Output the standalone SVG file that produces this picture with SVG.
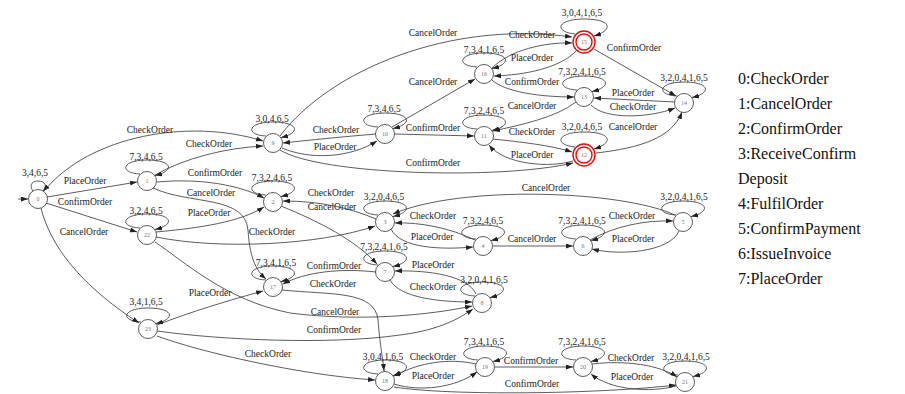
<svg xmlns="http://www.w3.org/2000/svg" xmlns:xlink="http://www.w3.org/1999/xlink" width="905" height="394" viewBox="0 0 905 394">
<style>
.e{fill:none;stroke:#333;stroke-width:0.8;marker-end:url(#ah)}
.lp{fill:none;stroke:#333;stroke-width:0.8;marker-end:url(#ah)}
.el{font-family:"Liberation Serif","Times New Roman",serif;font-size:9.5px;fill:#222;text-anchor:middle}
.node circle{fill:#fff;stroke:#333;stroke-width:0.8}
.node text{font-family:"Liberation Serif",serif;font-size:6px;fill:#777;text-anchor:middle}
.acc circle{fill:#fff;stroke:#e01010;stroke-width:1.4}
.lg{font-family:"Liberation Serif","Times New Roman",serif;font-size:16px;fill:#111}
</style>
<defs>
<marker id="ah" viewBox="0 0 7 5" refX="7" refY="2.5" markerWidth="7" markerHeight="5" orient="auto" markerUnits="userSpaceOnUse"><path d="M0,0 L7,2.5 L0,5 z" fill="#222"/></marker>
<path id="loop" class="lp" d="M-7,-7 C-28,-8 -26,-21 0,-21 C26,-21 28,-10 8,-5.5"/>
<path id="loopR" class="lp" d="M-9,-8 C-30,-10 -28,-23 0,-23 C28,-23 30,-12 10,-6"/>
<path id="loopS" class="lp" d="M-5,-8 C-8,-12 -8,-18 0,-18 C8,-18 9,-12 5,-8"/>
</defs>

<g id="connectors">
<path class="e" d="M18,199 L28,199"/>
<use xlink:href="#loopS" transform="translate(38,199)"/><text class="el" x="35" y="176">3,4,6,5</text>
<use xlink:href="#loop" transform="translate(147,181)"/><text class="el" x="146" y="160">7,3,4,6,5</text>
<use xlink:href="#loop" transform="translate(147,235)"/><text class="el" x="146" y="214">3,2,4,6,5</text>
<use xlink:href="#loop" transform="translate(148,329)"/><text class="el" x="146" y="305">3,4,1,6,5</text>
<use xlink:href="#loop" transform="translate(273,143)"/><text class="el" x="272" y="122">3,0,4,6,5</text>
<use xlink:href="#loop" transform="translate(273,202)"/><text class="el" x="272" y="181">7,3,2,4,6,5</text>
<use xlink:href="#loop" transform="translate(273,287)"/><text class="el" x="276" y="266">7,3,4,1,6,5</text>
<use xlink:href="#loop" transform="translate(385,134)"/><text class="el" x="384" y="112">7,3,4,6,5</text>
<use xlink:href="#loop" transform="translate(385,222)"/><text class="el" x="384" y="200">3,2,0,4,6,5</text>
<use xlink:href="#loop" transform="translate(385,272)"/><text class="el" x="384" y="250">7,3,2,4,1,6,5</text>
<use xlink:href="#loop" transform="translate(385,381)"/><text class="el" x="383" y="360">3,0,4,1,6,5</text>
<use xlink:href="#loop" transform="translate(484,74)"/><text class="el" x="484" y="53">7,3,4,1,6,5</text>
<use xlink:href="#loop" transform="translate(484,136)"/><text class="el" x="484" y="114">7,3,2,4,6,5</text>
<use xlink:href="#loop" transform="translate(483,246)"/><text class="el" x="483" y="224">7,3,2,4,6,5</text>
<use xlink:href="#loop" transform="translate(482,303)"/><text class="el" x="484" y="283">3,2,0,4,1,6,5</text>
<use xlink:href="#loop" transform="translate(485,367)"/><text class="el" x="484" y="345">7,3,4,1,6,5</text>
<use xlink:href="#loopR" transform="translate(584,42)"/><text class="el" x="582" y="16">3,0,4,1,6,5</text>
<use xlink:href="#loop" transform="translate(584,97)"/><text class="el" x="582" y="75">7,3,2,4,1,6,5</text>
<use xlink:href="#loopR" transform="translate(584,155)"/><text class="el" x="582" y="130">3,2,0,4,6,5</text>
<use xlink:href="#loop" transform="translate(583,246)"/><text class="el" x="582" y="224">7,3,2,4,1,6,5</text>
<use xlink:href="#loop" transform="translate(583,367)"/><text class="el" x="582" y="345">7,3,2,4,1,6,5</text>
<use xlink:href="#loop" transform="translate(684,103)"/><text class="el" x="684" y="81">3,2,0,4,1,6,5</text>
<use xlink:href="#loop" transform="translate(683,222)"/><text class="el" x="684" y="200">3,2,0,4,1,6,5</text>
<use xlink:href="#loop" transform="translate(685,382)"/><text class="el" x="686" y="360">3,2,0,4,1,6,5</text>

<path class="e" d="M44,191 C90,135 190,118 263,141"/><text class="el" x="150" y="133">CheckOrder</text>
<path class="e" d="M47,197 L137,182"/><text class="el" x="85" y="184">PlaceOrder</text>
<path class="e" d="M46,203 L137,232"/><text class="el" x="85" y="205">ConfirmOrder</text>
<path class="e" d="M41,208 C50,245 80,285 139,323"/><text class="el" x="84" y="235">CancelOrder</text>
<path class="e" d="M155,175 C185,158 225,148 263,146"/><text class="el" x="209" y="147">CheckOrder</text>
<path class="e" d="M157,182 C200,178 240,185 264,198"/><text class="el" x="215" y="176">ConfirmOrder</text>
<path class="e" d="M153,188 C190,205 245,195 248,230 C250,262 258,272 266,279"/><text class="el" x="211" y="196">CancelOrder</text>
<path class="e" d="M156,232 C200,228 240,222 264,207"/><text class="el" x="209" y="216">PlaceOrder</text>
<path class="e" d="M156,237 C220,250 320,245 375,226"/><text class="el" x="272" y="235">CheckOrder</text>
<path class="e" d="M155,242 C185,262 225,300 290,313 C360,322 430,315 472,306"/><text class="el" x="335" y="315">CancelOrder</text>
<path class="e" d="M157,325 C190,312 230,300 263,291"/><text class="el" x="210" y="296">PlaceOrder</text>
<path class="e" d="M157,331 C220,340 330,345 400,335 C440,330 460,318 473,309"/><text class="el" x="334" y="333">ConfirmOrder</text>
<path class="e" d="M157,336 C200,352 300,375 375,380"/><text class="el" x="268" y="357">CheckOrder</text>
<path class="e" d="M281,206 C320,222 355,240 377,264"/><text class="el" x="332" y="210">CancelOrder</text>
<path class="e" d="M376,219 C350,208 320,201 283,201"/><text class="el" x="331" y="196">CheckOrder</text>
<path class="e" d="M376,272 C340,268 305,272 283,284"/><text class="el" x="334" y="269">ConfirmOrder</text>
<path class="e" d="M282,290 C330,295 375,290 378,320 C380,345 383,360 384,371"/><text class="el" x="333" y="287">CheckOrder</text>
<path class="e" d="M391,229 C400,248 440,250 473,247"/><text class="el" x="432" y="240">PlaceOrder</text>
<path class="e" d="M475,240 C450,228 420,222 395,223"/><text class="el" x="433" y="219">CheckOrder</text>
<path class="e" d="M675,215 C620,190 460,185 393,214"/><text class="el" x="546" y="191">CancelOrder</text>
<path class="e" d="M493,246 L573,246"/><text class="el" x="532" y="242">CancelOrder</text>
<path class="e" d="M590,240 C615,226 645,220 673,221"/><text class="el" x="632" y="219">CheckOrder</text>
<path class="e" d="M679,231 C670,252 620,256 592,249"/><text class="el" x="633" y="242">PlaceOrder</text>
<path class="e" d="M390,280 C400,298 440,302 472,302"/><text class="el" x="433" y="290">CheckOrder</text>
<path class="e" d="M476,294 C468,276 430,270 395,271"/><text class="el" x="433" y="268">PlaceOrder</text>
<path class="e" d="M394,384 C420,392 455,388 477,372"/><text class="el" x="433" y="379">PlaceOrder</text>
<path class="e" d="M476,364 C450,358 420,362 394,376"/><text class="el" x="433" y="360">CheckOrder</text>
<path class="e" d="M394,387 C450,396 600,394 676,385"/><text class="el" x="532" y="387">ConfirmOrder</text>
<path class="e" d="M495,367 L573,367"/><text class="el" x="531" y="364">ConfirmOrder</text>
<path class="e" d="M592,364 C625,360 660,365 677,377"/><text class="el" x="631" y="361">CheckOrder</text>
<path class="e" d="M676,386 C650,393 610,390 591,374"/><text class="el" x="632" y="380">PlaceOrder</text>
<path class="e" d="M376,134 C340,137 310,140 283,143"/><text class="el" x="336" y="133">CheckOrder</text>
<path class="e" d="M282,148 C310,160 350,158 377,141"/><text class="el" x="335" y="150">PlaceOrder</text>
<path class="e" d="M280,136 C330,70 450,20 572,37"/><text class="el" x="433" y="36">CancelOrder</text>
<path class="e" d="M492,68 C510,50 545,42 572,43"/><text class="el" x="532" y="38">CheckOrder</text>
<path class="e" d="M576,51 C560,68 525,75 494,76"/><text class="el" x="532" y="61">PlaceOrder</text>
<path class="e" d="M594,49 L676,96"/><text class="el" x="634" y="51">ConfirmOrder</text>
<path class="e" d="M492,80 C505,92 540,97 574,97"/><text class="el" x="532" y="85">ConfirmOrder</text>
<path class="e" d="M392,127 L475,79"/><text class="el" x="433" y="85">CancelOrder</text>
<path class="e" d="M675,102 L594,98"/><text class="el" x="633" y="96">PlaceOrder</text>
<path class="e" d="M591,105 C605,120 650,118 675,108"/><text class="el" x="633" y="110">CheckOrder</text>
<path class="e" d="M576,102 C555,118 520,125 493,131"/><text class="el" x="532" y="109">CancelOrder</text>
<path class="e" d="M596,153 C640,148 672,138 682,112"/><text class="el" x="633" y="130">CancelOrder</text>
<path class="e" d="M493,139 C520,142 550,145 572,152"/><text class="el" x="532" y="135">CheckOrder</text>
<path class="e" d="M573,161 C550,168 505,165 489,145"/><text class="el" x="532" y="158">PlaceOrder</text>
<path class="e" d="M395,134 L474,136"/><text class="el" x="433" y="131">ConfirmOrder</text>
<path class="e" d="M280,150 C320,175 500,180 573,163"/><text class="el" x="433" y="166">ConfirmOrder</text>
</g>

<g id="n0" class="node"><circle cx="38" cy="199" r="9.5"/><text x="38" y="201">0</text></g>
<g id="n1" class="node"><circle cx="147" cy="181" r="9.5"/><text x="147" y="183">1</text></g>
<g id="n22" class="node"><circle cx="147" cy="235" r="9.5"/><text x="147" y="237">22</text></g>
<g id="n23" class="node"><circle cx="148" cy="329" r="9.5"/><text x="148" y="331">23</text></g>
<g id="n9" class="node"><circle cx="273" cy="143" r="9.5"/><text x="273" y="145">9</text></g>
<g id="n2" class="node"><circle cx="273" cy="202" r="9.5"/><text x="273" y="204">2</text></g>
<g id="n17" class="node"><circle cx="273" cy="287" r="9.5"/><text x="273" y="289">17</text></g>
<g id="n10" class="node"><circle cx="385" cy="134" r="9.5"/><text x="385" y="136">10</text></g>
<g id="n3" class="node"><circle cx="385" cy="222" r="9.5"/><text x="385" y="224">3</text></g>
<g id="n7" class="node"><circle cx="385" cy="272" r="9.5"/><text x="385" y="274">7</text></g>
<g id="n18" class="node"><circle cx="385" cy="381" r="9.5"/><text x="385" y="383">18</text></g>
<g id="n16" class="node"><circle cx="484" cy="74" r="9.5"/><text x="484" y="76">16</text></g>
<g id="n11" class="node"><circle cx="484" cy="136" r="9.5"/><text x="484" y="138">11</text></g>
<g id="n4" class="node"><circle cx="483" cy="246" r="9.5"/><text x="483" y="248">4</text></g>
<g id="n8" class="node"><circle cx="482" cy="303" r="9.5"/><text x="482" y="305">8</text></g>
<g id="n19" class="node"><circle cx="485" cy="367" r="9.5"/><text x="485" y="369">19</text></g>
<g id="n15" class="node acc"><circle cx="584" cy="42" r="11"/><circle cx="584" cy="42" r="8"/><text x="584" y="44">15</text></g>
<g id="n13" class="node"><circle cx="584" cy="97" r="9.5"/><text x="584" y="99">13</text></g>
<g id="n12" class="node acc"><circle cx="584" cy="155" r="11"/><circle cx="584" cy="155" r="8"/><text x="584" y="157">12</text></g>
<g id="n6" class="node"><circle cx="583" cy="246" r="9.5"/><text x="583" y="248">6</text></g>
<g id="n20" class="node"><circle cx="583" cy="367" r="9.5"/><text x="583" y="369">20</text></g>
<g id="n14" class="node"><circle cx="684" cy="103" r="9.5"/><text x="684" y="105">14</text></g>
<g id="n5" class="node"><circle cx="683" cy="222" r="9.5"/><text x="683" y="224">5</text></g>
<g id="n21" class="node"><circle cx="685" cy="382" r="9.5"/><text x="685" y="384">21</text></g>

<g id="legend">
<text class="lg" x="738" y="84">0:CheckOrder</text>
<text class="lg" x="738" y="109">1:CancelOrder</text>
<text class="lg" x="738" y="134">2:ConfirmOrder</text>
<text class="lg" x="738" y="159">3:ReceiveConfirm</text>
<text class="lg" x="738" y="184">Deposit</text>
<text class="lg" x="738" y="209">4:FulfilOrder</text>
<text class="lg" x="738" y="234">5:ConfirmPayment</text>
<text class="lg" x="738" y="259">6:IssueInvoice</text>
<text class="lg" x="738" y="284">7:PlaceOrder</text>
</g>
</svg>
